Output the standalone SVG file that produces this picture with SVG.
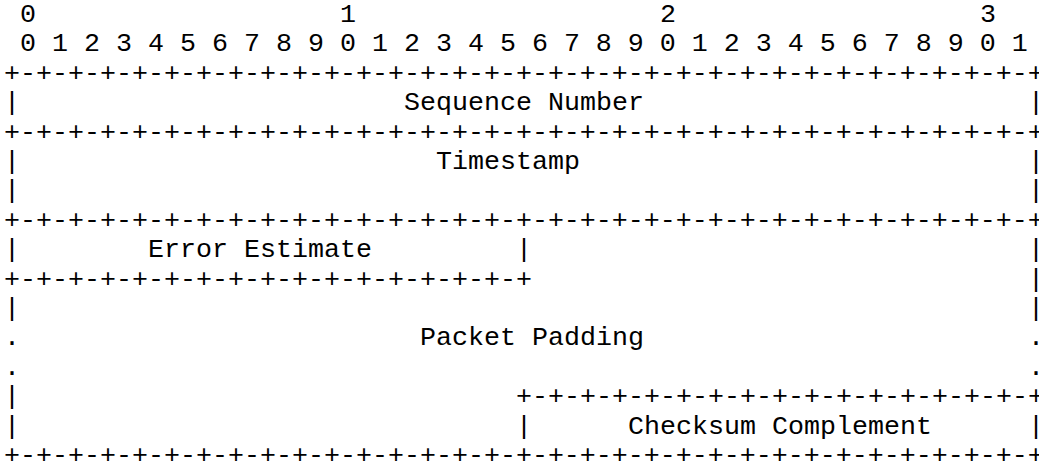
<svg xmlns="http://www.w3.org/2000/svg" width="1039" height="465" viewBox="0 0 1039 465" xml:space="preserve">
<style>
text { font-family: "Nimbus Mono PS", "Courier", "Liberation Mono", "Courier New", monospace; font-size: 26.667px; fill: #000; white-space: pre; }
</style>
<rect width="1039" height="465" fill="#fff"/>
<g id="ruler">
<text x="20" y="22">0</text><text x="340" y="22">1</text><text x="660" y="22">2</text><text x="980" y="22">3</text>
<text x="20" y="51.4">0 1 2 3 4 5 6 7 8 9 0 1 2 3 4 5 6 7 8 9 0 1 2 3 4 5 6 7 8 9 0 1</text>
</g>
<g id="connectors">
<text x="4" y="80.8">+-+-+-+-+-+-+-+-+-+-+-+-+-+-+-+-+-+-+-+-+-+-+-+-+-+-+-+-+-+-+-+-+</text>
<text x="4" y="139.6">+-+-+-+-+-+-+-+-+-+-+-+-+-+-+-+-+-+-+-+-+-+-+-+-+-+-+-+-+-+-+-+-+</text>
<text x="4" y="227.8">+-+-+-+-+-+-+-+-+-+-+-+-+-+-+-+-+-+-+-+-+-+-+-+-+-+-+-+-+-+-+-+-+</text>
<text x="4" y="286.6">+-+-+-+-+-+-+-+-+-+-+-+-+-+-+-+-+</text>
<text x="516" y="404.2">+-+-+-+-+-+-+-+-+-+-+-+-+-+-+-+-+</text>
<text x="4" y="463">+-+-+-+-+-+-+-+-+-+-+-+-+-+-+-+-+-+-+-+-+-+-+-+-+-+-+-+-+-+-+-+-+</text>
</g>
<g id="sequence-number">
<text x="4" y="110.2">|</text><text x="404" y="110.2">Sequence Number</text><text x="1028" y="110.2">|</text>
</g>
<g id="timestamp">
<text x="4" y="169">|</text><text x="436" y="169">Timestamp</text><text x="1028" y="169">|</text>
<text x="4" y="198.4">|</text><text x="1028" y="198.4">|</text>
</g>
<g id="error-estimate">
<text x="4" y="257.2">|</text><text x="148" y="257.2">Error Estimate</text><text x="516" y="257.2">|</text>
</g>
<g id="packet-padding">
<text x="1028" y="257.2">|</text>
<text x="1028" y="286.6">|</text>
<text x="4" y="316">|</text><text x="1028" y="316">|</text>
<text x="4" y="345.4">.</text><text x="420" y="345.4">Packet Padding</text><text x="1028" y="345.4">.</text>
<text x="4" y="374.8">.</text><text x="1028" y="374.8">.</text>
<text x="4" y="404.2">|</text>
<text x="4" y="433.6">|</text>
</g>
<g id="checksum-complement">
<text x="516" y="433.6">|</text><text x="628" y="433.6">Checksum Complement</text><text x="1028" y="433.6">|</text>
</g>
</svg>
